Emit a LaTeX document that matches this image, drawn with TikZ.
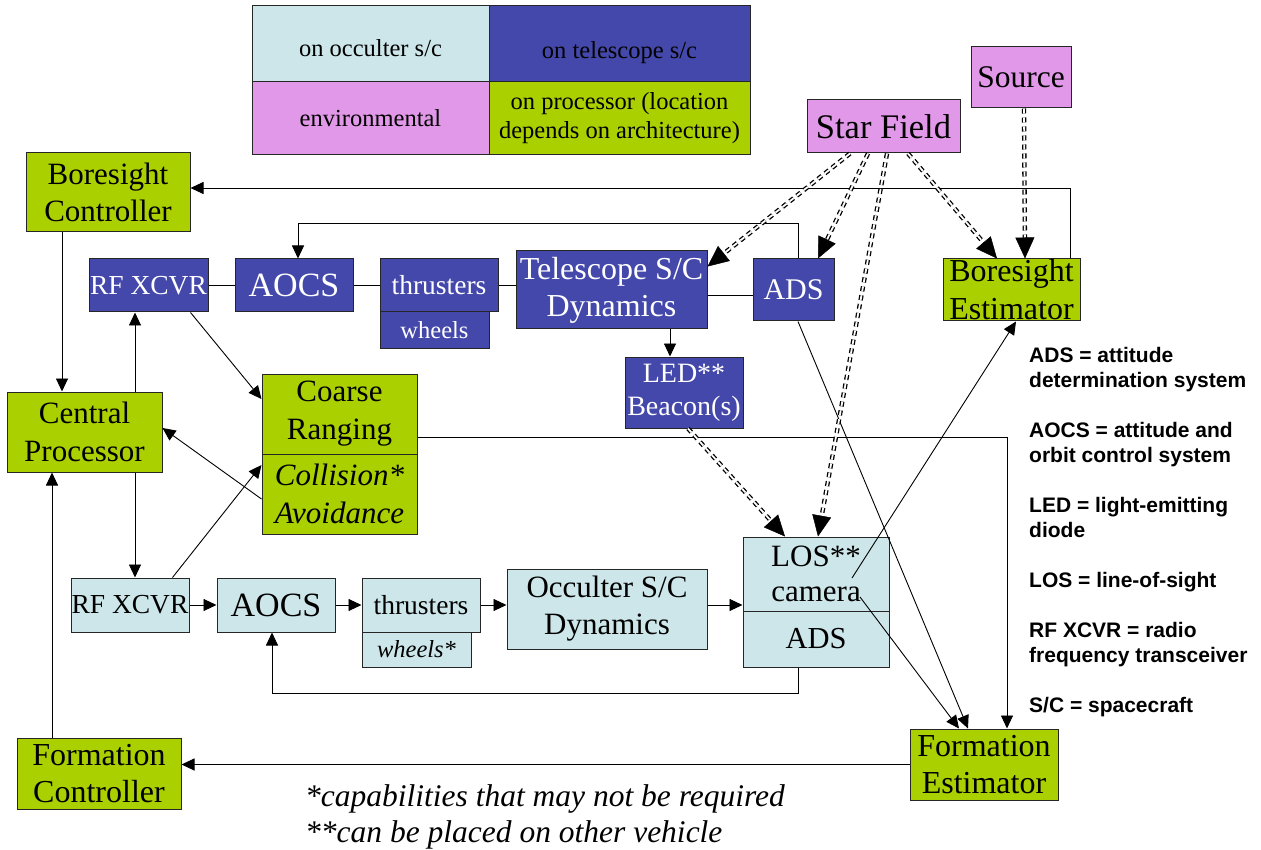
\documentclass[tikz,border=0pt]{standalone}
\usepackage{fontspec}
\setmainfont{Liberation Serif}
\newfontfamily\glossfont{Liberation Sans}
\usetikzlibrary{arrows.meta,calc}
\definecolor{cblue}{RGB}{68,72,170}
\definecolor{cgreen}{RGB}{170,208,0}
\definecolor{cpink}{RGB}{226,152,232}
\definecolor{ccyan}{RGB}{204,230,234}
\newcommand\dblarr[2]{\draw[dbl] (#1) -- (#2); \draw[head] ($(#2)!20pt!(#1)$) -- (#2);}
\begin{document}
\begin{tikzpicture}[x=1pt,y=-1pt,
  box/.style={draw=black!85, line width=1pt, inner sep=0pt, align=center, rectangle},
  tb/.style={box, fill=cblue, text=white},
  ob/.style={box, fill=ccyan},
  eb/.style={box, fill=cpink},
  pb/.style={box, fill=cgreen},
  fz/.style 2 args={font=\fontsize{#1}{#2}\selectfont},
  fzi/.style 2 args={font=\itshape\fontsize{#1}{#2}\selectfont},
  arr/.style={draw=black, line width=0.9pt, -{Triangle[length=13pt,width=12pt]}},
  ln/.style={draw=black, line width=0.9pt},
  dbl/.style={draw=black, line width=1.3pt, double=white, double distance=1.8pt, dash pattern=on 5pt off 4pt, shorten >=19pt},
  head/.style={draw=black, line width=0.5pt, -{Triangle[length=21pt,width=19pt]}},
  gl/.style={anchor=base west, inner sep=0pt, font=\glossfont\bfseries\fontsize{21}{25}\selectfont},
  note/.style={anchor=base west, inner sep=0pt, font=\itshape\fontsize{31.5}{36}\selectfont}
]
\fill[white] (0,0) rectangle (1261,850);
\useasboundingbox (0,0) rectangle (1261,850);

% legend
\node[ob, minimum width=237pt, minimum height=76pt, label={[yshift=-4pt, fz={24.5}{29}]center:on occulter s/c}] (lg1) at (370.5,44) {};
\node[tb, minimum width=261pt, minimum height=76pt, label={[yshift=-9pt, fz={24.5}{29}]center:on telescope s/c}] (lg2) at (619.5,44) {};
\node[eb, minimum width=237pt, minimum height=73pt, fz={24.5}{29}] (lg3) at (370.5,118.5) {environmental};
\node[pb, minimum width=261pt, minimum height=73pt, fz={24.5}{29}] (lg4) at (619.5,118.5) {on processor (location\\depends on architecture)};

% environment
\node[eb, minimum width=100pt, minimum height=61pt, fz={31.5}{37}] (source) at (1021,77.5) {Source};
\node[eb, minimum width=153pt, minimum height=53pt, fz={34.5}{40}] (star) at (883.5,126.5) {Star Field};

% processor
\node[pb, minimum width=164pt, minimum height=79pt, fz={31}{37}] (bctrl) at (108,192.5) {Boresight\\Controller};
\node[pb, minimum width=137pt, minimum height=62pt, label={[fz={32}{38}, align=center]center:Boresight\\Estimator}] (best) at (1011.5,290) {};
\node[pb, minimum width=155pt, minimum height=80pt, fz={31}{38}] (cp) at (84.5,432) {Central\\Processor};
\node[pb, minimum width=155pt, minimum height=80pt, fz={31}{38}] (cr) at (339.5,414) {Coarse\\Ranging};
\node[pb, minimum width=155pt, minimum height=80pt, fzi={31}{38}] (ca) at (339.5,494) {Collision*\\Avoidance};
\node[pb, minimum width=164pt, minimum height=71pt, fz={32}{37}] (fctrl) at (99,773.5) {Formation\\Controller};
\node[pb, minimum width=148pt, minimum height=71pt, fz={32}{37}] (fest) at (984,764.5) {Formation\\Estimator};

% telescope s/c
\node[tb, minimum width=119pt, minimum height=53pt, fz={27.5}{33}] (rft) at (148.5,285.5) {RF XCVR};
\node[tb, minimum width=118pt, minimum height=53pt, fz={34}{40}] (aocst) at (294,285.5) {AOCS};
\node[tb, minimum width=118pt, minimum height=53pt, fz={27.5}{33}] (thrt) at (439,285.5) {thrusters};
\node[tb, minimum width=109pt, minimum height=36pt, fz={24.5}{29}] (wht) at (434.5,330) {wheels};
\node[tb, minimum width=191pt, minimum height=78pt, fz={32}{37}] (tel) at (611.5,290) {Telescope S/C\\Dynamics};
\node[tb, minimum width=81pt, minimum height=62pt, fz={30}{36}] (adst) at (793.5,290) {ADS};
\node[tb, minimum width=118pt, minimum height=71pt, fz={28}{33}] (led) at (684,392.5) {LED**\\Beacon(s)};

% occulter s/c
\node[ob, minimum width=118pt, minimum height=54pt, fz={27.5}{33}] (rfb) at (130,605) {RF XCVR};
\node[ob, minimum width=118pt, minimum height=54pt, fz={34}{40}] (aocsb) at (276,605) {AOCS};
\node[ob, minimum width=118pt, minimum height=54pt, fz={27.5}{33}] (thrb) at (421,605) {thrusters};
\node[ob, minimum width=109pt, minimum height=35pt, fzi={24.5}{29}] (whb) at (416.5,649.5) {wheels*};
\node[ob, minimum width=200pt, minimum height=80pt, fz={31}{37}] (occ) at (607,609) {Occulter S/C\\Dynamics};
\node[ob, minimum width=146pt, minimum height=74pt, fz={31}{35}] (los) at (816,574) {LOS**\\camera};
\node[ob, minimum width=146pt, minimum height=56pt, fz={30.5}{36}] (adsb) at (816,639) {ADS};

% top chain
\draw[ln] (rft) -- (aocst);
\draw[ln] (aocst) -- (thrt);
\draw[ln] (thrt.east) -- (thrt.east -| tel.west);
\draw[ln] ([yshift=-5pt]tel.east) -- ([yshift=-5pt]tel.east -| adst.west);
\draw[arr] ([xshift=4.5pt]adst.north) -- ++(0,-35) -| ([xshift=4pt]aocst.north);
\draw[arr] ([xshift=-14pt]led.north |- tel.south) -- ([xshift=-14pt]led.north);

% bottom chain
\draw[arr] (rfb) -- (aocsb);
\draw[arr] (aocsb) -- (thrb);
\draw[arr] (thrb.east) -- (thrb.east -| occ.west);
\draw[arr] ([yshift=4pt]occ.east) -- ([yshift=4pt]occ.east -| los.west);
\draw[arr] ([xshift=-18pt]adsb.south) -- ++(0,26) -| ([xshift=-4pt]aocsb.south);

% processor links
\draw[arr] ([xshift=-10pt]best.north east) |- ([yshift=4.5pt]bctrl.east);
\draw[arr] ([xshift=-46pt]bctrl.south) -- ([xshift=-46pt]bctrl.south |- cp.north);
\draw[arr] ([xshift=50.5pt]cp.north) -- ([xshift=50.5pt]cp.north |- rft.south);
\draw[arr] ([xshift=50.5pt]cp.south) -- ([xshift=50.5pt]cp.south |- rfb.north);
\draw[arr] ([xshift=-47pt]fctrl.north) -- ([xshift=-47pt]fctrl.north |- cp.south);
\draw[arr] ([xshift=-18pt]rft.south east) -- ([yshift=15pt]cr.west);
\draw[arr] ([yshift=-5pt]ca.west) -- ([yshift=4pt]cp.east);
\draw[arr] ([xshift=-17pt]rfb.north east) -- ([yshift=29pt]ca.west);
\draw[arr] ([yshift=-23pt]cr.east) -| ([xshift=23pt]fest.north);
\draw[arr] (fest.west) -- (fest.west -| fctrl.east);

\coordinate (losA) at ([shift={(36,4)}]los.center);
\coordinate (losB) at ([shift={(44,23)}]los.center);
\draw[arr] (losA) -- ([xshift=4.5pt]best.south);
\draw[arr] (losB) -- ([xshift=-25pt]fest.north);
\draw[arr] ([xshift=4.5pt]adst.south) -- ([xshift=-16pt]fest.north);

% light paths
\coordinate (s1) at ([xshift=-33.5pt]star.south);
\coordinate (s2) at ([xshift=-15.5pt]star.south);
\coordinate (s3) at ([xshift=3.5pt]star.south);
\coordinate (s4) at ([xshift=24.5pt]star.south);
\coordinate (t1) at ([yshift=-16pt]tel.north east);
\coordinate (t2) at ([xshift=24.5pt]adst.north);
\coordinate (t3) at ([xshift=2pt]los.north);
\coordinate (t4) at ([xshift=-14.5pt]best.north);
\coordinate (src) at ([xshift=3pt]source.south);
\coordinate (t5) at ([xshift=13.5pt]best.north);
\coordinate (ledA) at ([xshift=4pt]led.south);
\coordinate (t6) at ([xshift=-31pt]los.north);
\dblarr{s1}{t1}
\dblarr{s2}{t2}
\dblarr{s3}{t3}
\dblarr{s4}{t4}
\dblarr{src}{t5}
\dblarr{ledA}{t6}

% glossary
\node[gl] (g1) at (1029,362) {ADS = attitude};
\node[gl] (g2) at (1029,387) {determination system};
\node[gl] (g3) at (1029,437) {AOCS = attitude and};
\node[gl] (g4) at (1029,462) {orbit control system};
\node[gl] (g5) at (1029,512) {LED = light-emitting};
\node[gl] (g6) at (1029,537) {diode};
\node[gl] (g7) at (1029,587) {LOS = line-of-sight};
\node[gl] (g8) at (1029,637) {RF XCVR = radio};
\node[gl] (g9) at (1029,662) {frequency transceiver};
\node[gl] (g10) at (1029,712) {S/C = spacecraft};

% notes
\node[note] (n1) at (305,806) {*capabilities that may not be required};
\node[note] (n2) at (305,842) {**can be placed on other vehicle};
\end{tikzpicture}
\end{document}
